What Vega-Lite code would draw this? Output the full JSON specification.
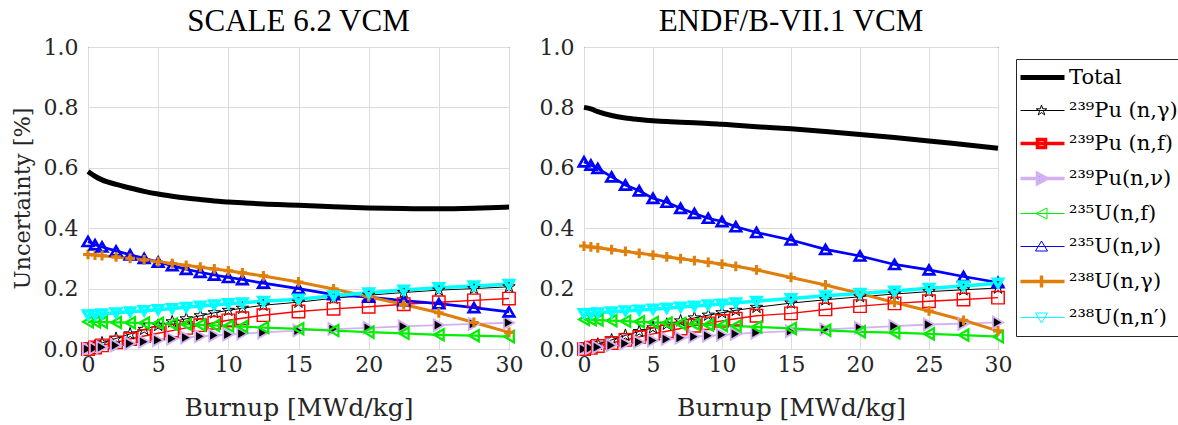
{
  "$schema": "https://vega.github.io/schema/vega-lite/v6.json",
  "background": "white",
  "padding": {"left": 10, "top": 5, "right": 0, "bottom": 0},
  "config": {
    "font": "DejaVu Serif",
    "view": {"stroke": "#262626", "strokeWidth": 1},
    "axis": {
      "labelFont": "DejaVu Serif", "titleFont": "DejaVu Serif",
      "labelFontSize": 22, "titleFontSize": 24, "titleFontWeight": "normal",
      "labelColor": "#262626", "titleColor": "#262626",
      "gridColor": "#dcdcdc", "gridWidth": 1, "domain": false,
      "ticks": false, "labelPadding": 10, "labelFlush": false, "labelOverlap": false
    },
    "axisX": {"labelPadding": 5, "titlePadding": 20, "titleFontSize": 25},
    "axisY": {"titleFontSize": 22.5},
    "legend": {"labelFont": "DejaVu Serif"},
    "title": {"font": "Liberation Serif", "fontSize": 31, "fontWeight": "normal", "color": "black", "offset": -2},
    "point": {"opacity": 1}
  },
  "datasets": {
    "d": [
      {"lib":"S","x":0,"t":0.588,"pug":0.000,"puf":0.000,"pun":0.000,"u5f":0.090,"u5n":0.356,"u8g":0.313,"u8n":0.113},
      {"lib":"S","x":0.5,"t":0.572,"pug":0.010,"puf":0.005,"pun":0.003,"u5f":0.090,"u5n":0.345,"u8g":0.311,"u8n":0.114},
      {"lib":"S","x":1,"t":0.560,"pug":0.020,"puf":0.012,"pun":0.006,"u5f":0.089,"u5n":0.338,"u8g":0.309,"u8n":0.116},
      {"lib":"S","x":2,"t":0.545,"pug":0.035,"puf":0.022,"pun":0.012,"u5f":0.088,"u5n":0.325,"u8g":0.305,"u8n":0.120},
      {"lib":"S","x":3,"t":0.533,"pug":0.050,"puf":0.033,"pun":0.018,"u5f":0.087,"u5n":0.312,"u8g":0.300,"u8n":0.123},
      {"lib":"S","x":4,"t":0.522,"pug":0.065,"puf":0.043,"pun":0.024,"u5f":0.086,"u5n":0.300,"u8g":0.295,"u8n":0.127},
      {"lib":"S","x":5,"t":0.513,"pug":0.078,"puf":0.052,"pun":0.029,"u5f":0.085,"u5n":0.288,"u8g":0.289,"u8n":0.130},
      {"lib":"S","x":6,"t":0.506,"pug":0.090,"puf":0.061,"pun":0.034,"u5f":0.083,"u5n":0.276,"u8g":0.283,"u8n":0.134},
      {"lib":"S","x":7,"t":0.500,"pug":0.100,"puf":0.070,"pun":0.038,"u5f":0.082,"u5n":0.264,"u8g":0.277,"u8n":0.138},
      {"lib":"S","x":8,"t":0.495,"pug":0.110,"puf":0.079,"pun":0.042,"u5f":0.080,"u5n":0.254,"u8g":0.271,"u8n":0.142},
      {"lib":"S","x":9,"t":0.490,"pug":0.120,"puf":0.087,"pun":0.045,"u5f":0.078,"u5n":0.245,"u8g":0.265,"u8n":0.146},
      {"lib":"S","x":10,"t":0.487,"pug":0.128,"puf":0.095,"pun":0.048,"u5f":0.076,"u5n":0.237,"u8g":0.259,"u8n":0.150},
      {"lib":"S","x":11,"t":0.484,"pug":0.135,"puf":0.102,"pun":0.051,"u5f":0.074,"u5n":0.230,"u8g":0.252,"u8n":0.153},
      {"lib":"S","x":12.5,"t":0.480,"pug":0.145,"puf":0.112,"pun":0.055,"u5f":0.071,"u5n":0.218,"u8g":0.242,"u8n":0.158},
      {"lib":"S","x":15,"t":0.476,"pug":0.155,"puf":0.124,"pun":0.061,"u5f":0.067,"u5n":0.200,"u8g":0.222,"u8n":0.165},
      {"lib":"S","x":17.5,"t":0.471,"pug":0.168,"puf":0.133,"pun":0.066,"u5f":0.061,"u5n":0.180,"u8g":0.199,"u8n":0.176},
      {"lib":"S","x":20,"t":0.467,"pug":0.178,"puf":0.140,"pun":0.070,"u5f":0.056,"u5n":0.172,"u8g":0.173,"u8n":0.186},
      {"lib":"S","x":22.5,"t":0.465,"pug":0.187,"puf":0.148,"pun":0.075,"u5f":0.052,"u5n":0.160,"u8g":0.147,"u8n":0.195},
      {"lib":"S","x":25,"t":0.464,"pug":0.195,"puf":0.155,"pun":0.079,"u5f":0.047,"u5n":0.150,"u8g":0.120,"u8n":0.203},
      {"lib":"S","x":27.5,"t":0.466,"pug":0.200,"puf":0.161,"pun":0.083,"u5f":0.044,"u5n":0.137,"u8g":0.088,"u8n":0.209},
      {"lib":"S","x":30,"t":0.470,"pug":0.206,"puf":0.167,"pun":0.087,"u5f":0.041,"u5n":0.123,"u8g":0.055,"u8n":0.214},
      {"lib":"E","x":0,"t":0.800,"pug":0.000,"puf":0.000,"pun":0.000,"u5f":0.098,"u5n":0.620,"u8g":0.341,"u8n":0.117},
      {"lib":"E","x":0.5,"t":0.795,"pug":0.008,"puf":0.004,"pun":0.003,"u5f":0.097,"u5n":0.609,"u8g":0.338,"u8n":0.118},
      {"lib":"E","x":1,"t":0.786,"pug":0.016,"puf":0.010,"pun":0.006,"u5f":0.096,"u5n":0.598,"u8g":0.335,"u8n":0.120},
      {"lib":"E","x":2,"t":0.773,"pug":0.030,"puf":0.020,"pun":0.012,"u5f":0.094,"u5n":0.570,"u8g":0.329,"u8n":0.123},
      {"lib":"E","x":3,"t":0.765,"pug":0.045,"puf":0.030,"pun":0.018,"u5f":0.092,"u5n":0.543,"u8g":0.323,"u8n":0.126},
      {"lib":"E","x":4,"t":0.760,"pug":0.058,"puf":0.040,"pun":0.023,"u5f":0.090,"u5n":0.524,"u8g":0.317,"u8n":0.129},
      {"lib":"E","x":5,"t":0.756,"pug":0.070,"puf":0.050,"pun":0.028,"u5f":0.088,"u5n":0.499,"u8g":0.311,"u8n":0.132},
      {"lib":"E","x":6,"t":0.753,"pug":0.082,"puf":0.059,"pun":0.033,"u5f":0.086,"u5n":0.486,"u8g":0.305,"u8n":0.135},
      {"lib":"E","x":7,"t":0.751,"pug":0.093,"puf":0.068,"pun":0.037,"u5f":0.084,"u5n":0.466,"u8g":0.299,"u8n":0.139},
      {"lib":"E","x":8,"t":0.749,"pug":0.103,"puf":0.077,"pun":0.041,"u5f":0.082,"u5n":0.449,"u8g":0.293,"u8n":0.142},
      {"lib":"E","x":9,"t":0.747,"pug":0.112,"puf":0.085,"pun":0.044,"u5f":0.080,"u5n":0.433,"u8g":0.287,"u8n":0.146},
      {"lib":"E","x":10,"t":0.744,"pug":0.120,"puf":0.093,"pun":0.047,"u5f":0.078,"u5n":0.422,"u8g":0.281,"u8n":0.149},
      {"lib":"E","x":11,"t":0.741,"pug":0.128,"puf":0.100,"pun":0.050,"u5f":0.076,"u5n":0.405,"u8g":0.274,"u8n":0.153},
      {"lib":"E","x":12.5,"t":0.736,"pug":0.138,"puf":0.110,"pun":0.054,"u5f":0.073,"u5n":0.386,"u8g":0.262,"u8n":0.158},
      {"lib":"E","x":15,"t":0.729,"pug":0.152,"puf":0.118,"pun":0.059,"u5f":0.068,"u5n":0.361,"u8g":0.237,"u8n":0.167},
      {"lib":"E","x":17.5,"t":0.720,"pug":0.163,"puf":0.131,"pun":0.065,"u5f":0.062,"u5n":0.330,"u8g":0.212,"u8n":0.176},
      {"lib":"E","x":20,"t":0.710,"pug":0.173,"puf":0.142,"pun":0.070,"u5f":0.057,"u5n":0.308,"u8g":0.184,"u8n":0.184},
      {"lib":"E","x":22.5,"t":0.700,"pug":0.182,"puf":0.151,"pun":0.076,"u5f":0.054,"u5n":0.280,"u8g":0.154,"u8n":0.192},
      {"lib":"E","x":25,"t":0.689,"pug":0.190,"puf":0.158,"pun":0.081,"u5f":0.050,"u5n":0.262,"u8g":0.126,"u8n":0.201},
      {"lib":"E","x":27.5,"t":0.677,"pug":0.196,"puf":0.164,"pun":0.084,"u5f":0.046,"u5n":0.240,"u8g":0.095,"u8n":0.209},
      {"lib":"E","x":30,"t":0.665,"pug":0.202,"puf":0.170,"pun":0.088,"u5f":0.041,"u5n":0.220,"u8g":0.060,"u8n":0.218}
    ]
  },
  "bounds": "flush",
  "spacing": 75,
  "resolve": {"scale": {"color": "shared", "stroke": "shared", "fill": "shared", "shape": "shared", "size": "shared", "strokeWidth": "shared"}, "legend": {"color": "shared"}},
  "hconcat": [
    {
      "width": 421, "height": 302,
      "title": "SCALE 6.2 VCM",
      "data": {"name": "d"},
      "transform": [
        {"filter": "datum.lib === 'S'"},
        {"fold": ["t","pug","puf","pun","u5f","u5n","u8g","u8n"], "as": ["series","v"]}
      ],
      "encoding": {
        "x": {"field": "x", "type": "quantitative", "scale": {"domain": [0, 30], "nice": false}, "axis": {"values": [0,5,10,15,20,25,30], "title": "Burnup [MWd/kg]"}},
        "y": {"field": "v", "type": "quantitative", "scale": {"domain": [0, 1], "nice": false}, "axis": {"values": [0,0.2,0.4,0.6,0.8,1], "format": ".1f", "title": "Uncertainty [%]", "titlePadding": 9}}
      },
      "layer": [
        {
          "transform": [{"filter": "datum.series === 't'"}],
          "mark": {"type": "line", "interpolate": "monotone"},
          "encoding": {
            "color": {"field": "series", "type": "nominal", "scale": {"domain": ["t","pug","puf","pun","u5f","u5n","u8g","u8n"], "range": ["#000000","#000000","#ff0000","#d2b1f2","#00ee00","#0000ff","#df7f0a","#00ffff"]},
              "legend": {"title": null, "orient": "none", "legendX": 928, "legendY": 12, "strokeColor": "#262626", "fillColor": "white", "padding": 8, "labelFont": "DejaVu Serif", "labelFontSize": 21, "labelColor": "black", "symbolSize": 100, "labelOffset": 24, "rowPadding": 11, "symbolType": "circle",
                "labelExpr": "{'t':'Total','pug':'²³⁹Pu (n,γ)','puf':'²³⁹Pu (n,f)','pun':'²³⁹Pu(n,ν)','u5f':'²³⁵U(n,f)','u5n':'²³⁵U(n,ν)','u8g':'²³⁸U(n,γ)','u8n':'²³⁸U(n,n′)'}[datum.label]",
                "encode": {
                  "symbols": {"update": {
                  "shape": {"signal": "{'t':'M-2.8,0H6','pug':'M-2.8,0H6M1.4,-1.1L1.647,-0.34L2.446,-0.34L1.8,0.13L2.047,0.89L1.4,0.42L0.753,0.89L1,0.13L0.354,-0.34L1.153,-0.34Z','puf':'M-2.8,0H6M0.6,-0.8H2.2V0.8H0.6Z','pun':'M-2.8,0H6M0.6,-1L2.5,0L0.6,1Z','u5f':'M-2.8,0H6M2.5,-1.1L0.3,0L2.5,1.1Z','u5n':'M-2.8,0H6M1.4,-1.1L2.6,0.9L0.2,0.9Z','u8g':'M-2.8,0H6M1.4,-1.2V1.2','u8n':'M-2.8,0H6M1.4,1.1L2.6,-0.9L0.2,-0.9Z'}[datum.value]"},
                  "fill": {"signal": "datum.value === 'pun' ? 'black' : 'transparent'"},
                  "strokeWidth": {"signal": "datum.value === 't' ? 5 : (datum.value === 'puf' || datum.value === 'pun' || datum.value === 'u8g') ? 3.5 : 1"},
                  "opacity": {"value": 1}
                }}}
              }},
            "strokeWidth": {"value": 5}
          }
        },
        {
          "transform": [{"filter": "datum.series !== 't'"}],
          "mark": {"type": "line"},
          "encoding": {
            "color": {"field": "series", "type": "nominal"},
            "strokeWidth": {"field": "series", "type": "nominal", "scale": {"domain": ["pug","puf","pun","u5f","u5n","u8g","u8n"], "range": [1,3.5,3.5,1,1,3.5,1]}, "legend": null}
          }
        },
        {
          "transform": [{"filter": "datum.series !== 't'"}],
          "mark": {"type": "point", "filled": true, "opacity": 1},
          "encoding": {
            "shape": {"field": "series", "type": "nominal", "scale": {"domain": ["pug","puf","pun","u5f","u5n","u8g","u8n"], "range": ["M0,-1L0.225,-0.309L0.951,-0.309L0.363,0.118L0.588,0.809L0,0.382L-0.588,0.809L-0.363,0.118L-0.951,-0.309L-0.225,-0.309Z","square","triangle-right","triangle-left","triangle-up","M-1,0H1M0,-1V1","triangle-down"]}, "legend": null},
            "stroke": {"field": "series", "type": "nominal", "scale": {"domain": ["pug","puf","pun","u5f","u5n","u8g","u8n"], "range": ["#000000","#ff0000","#d2b1f2","#00ee00","#0000ff","#df7f0a","#00ffff"]}, "legend": null},
            "fill": {"field": "series", "type": "nominal", "scale": {"domain": ["pug","puf","pun","u5f","u5n","u8g","u8n"], "range": ["transparent","transparent","#000000","transparent","transparent","transparent","transparent"]}, "legend": null},
            "size": {"field": "series", "type": "nominal", "scale": {"domain": ["pug","puf","pun","u5f","u5n","u8g","u8n"], "range": [170,80,110,160,170,170,170]}, "legend": null},
            "strokeWidth": {"field": "series", "type": "nominal", "legend": null}
          }
        }
      ]
    },
    {
      "width": 414, "height": 302,
      "title": "ENDF/B-VII.1 VCM",
      "data": {"name": "d"},
      "transform": [
        {"filter": "datum.lib === 'E'"},
        {"fold": ["t","pug","puf","pun","u5f","u5n","u8g","u8n"], "as": ["series","v"]}
      ],
      "encoding": {
        "x": {"field": "x", "type": "quantitative", "scale": {"domain": [0, 30], "nice": false}, "axis": {"values": [0,5,10,15,20,25,30], "title": "Burnup [MWd/kg]"}},
        "y": {"field": "v", "type": "quantitative", "scale": {"domain": [0, 1], "nice": false}, "axis": {"values": [0,0.2,0.4,0.6,0.8,1], "format": ".1f", "title": null}}
      },
      "layer": [
        {
          "transform": [{"filter": "datum.series === 't'"}],
          "mark": {"type": "line", "interpolate": "monotone"},
          "encoding": {
            "color": {"field": "series", "type": "nominal"},
            "strokeWidth": {"value": 5}
          }
        },
        {
          "transform": [{"filter": "datum.series !== 't'"}],
          "mark": {"type": "line"},
          "encoding": {
            "color": {"field": "series", "type": "nominal"},
            "strokeWidth": {"field": "series", "type": "nominal", "legend": null}
          }
        },
        {
          "transform": [{"filter": "datum.series !== 't'"}],
          "mark": {"type": "point", "filled": true, "opacity": 1},
          "encoding": {
            "shape": {"field": "series", "type": "nominal", "legend": null},
            "stroke": {"field": "series", "type": "nominal", "legend": null},
            "fill": {"field": "series", "type": "nominal", "legend": null},
            "size": {"field": "series", "type": "nominal", "legend": null},
            "strokeWidth": {"field": "series", "type": "nominal", "legend": null}
          }
        }
      ]
    }
  ]
}
